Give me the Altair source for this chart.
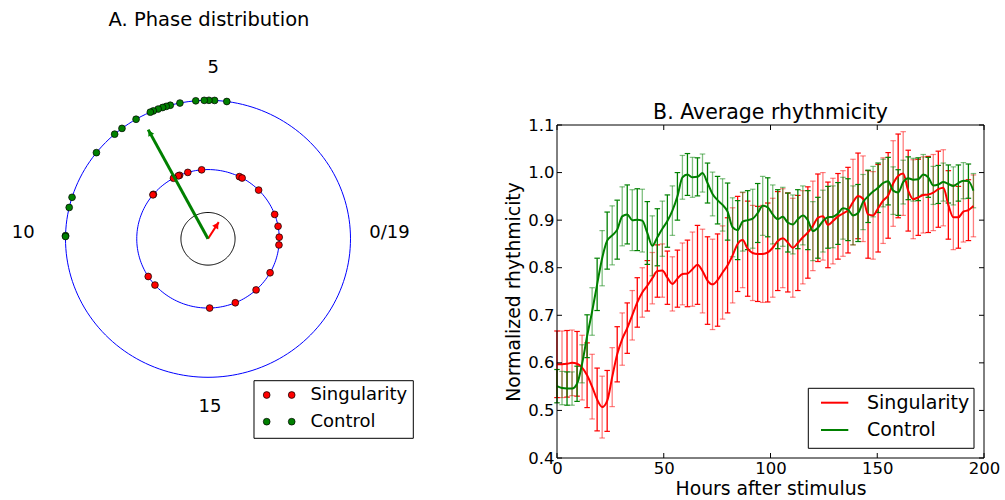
import math
import altair as alt
import pandas as pd

# ---------------- data: A. phase distribution ----------------
PERIOD = 19.0
SING_PHASES = [5.02, 5.62, 5.99, 6.05, 6.28, 7.39, 7.42, 3.37, 3.24, 2.36,
               1.09, 0.55, 0.07, 18.73, 17.45, 16.49, 15.44, 14.32, 11.71, 11.24]
CTRL_PHASES = [4.35, 4.61, 4.73, 4.83, 5.01, 5.35, 5.56, 5.65, 5.73, 5.83,
               5.94, 6.01, 6.35, 6.71, 6.91, 7.47, 8.58, 8.81, 9.43, 9.45]
SING_R = 0.5
CTRL_R = 1.0
RING_RADII = [1.0, 0.5, 0.19]
RING_COLORS = ["#0000ff", "#0000ff", "#000000"]
VEC_PHASE = [3.06, 6.23]      # Singularity, Control mean phase
VEC_LEN = [0.142, 0.893]      # mean resultant length
CLOCK_LABELS = ["5", "10", "0/19", "15"]
CLOCK_X = [0.037, -1.296, 1.274, 0.014]
CLOCK_Y = [1.231, 0.044, 0.044, -1.218]

# ---------------- data: B. average rhythmicity ----------------
HOURS = [0, 2.35, 4.7, 7.05, 9.4, 11.75, 14.1, 16.45, 18.8, 21.15,
         23.5, 25.85, 28.2, 30.55, 32.9, 35.25, 37.6, 39.95, 42.3, 44.65,
         47.0, 49.35, 51.7, 54.05, 56.4, 58.75, 61.1, 63.45, 65.8, 68.15,
         70.5, 72.85, 75.2, 77.55, 79.9, 82.25, 84.6, 86.95, 89.3, 91.65,
         94.0, 96.35, 98.7, 101.05, 103.4, 105.75, 108.1, 110.45, 112.8, 115.15,
         117.5, 119.85, 122.2, 124.55, 126.9, 129.25, 131.6, 133.95, 136.3, 138.65,
         141.0, 143.35, 145.7, 148.05, 150.4, 152.75, 155.1, 157.45, 159.8, 162.15,
         164.5, 166.85, 169.2, 171.55, 173.9, 176.25, 178.6, 180.95, 183.3, 185.65,
         188.0, 190.35, 192.7, 195.05]
RED_MEAN = [0.597, 0.597, 0.598, 0.600, 0.598, 0.590, 0.574, 0.550, 0.523, 0.507,
            0.520, 0.570, 0.618, 0.650, 0.673, 0.700, 0.727, 0.748, 0.762, 0.778,
            0.793, 0.794, 0.779, 0.766, 0.777, 0.787, 0.788, 0.797, 0.806, 0.793,
            0.773, 0.765, 0.774, 0.790, 0.805, 0.826, 0.850, 0.858, 0.840, 0.831,
            0.829, 0.829, 0.832, 0.842, 0.856, 0.862, 0.853, 0.842, 0.852, 0.864,
            0.874, 0.888, 0.905, 0.908, 0.890, 0.898, 0.908, 0.914, 0.921, 0.938,
            0.951, 0.945, 0.912, 0.910, 0.925, 0.941, 0.952, 0.977, 0.993, 0.998,
            0.962, 0.944, 0.948, 0.953, 0.954, 0.958, 0.965, 0.968, 0.932, 0.906,
            0.906, 0.918, 0.921, 0.930]
RED_ERR = [0.070, 0.070, 0.070, 0.069, 0.068, 0.068, 0.068, 0.068, 0.066, 0.065,
           0.064, 0.062, 0.058, 0.055, 0.053, 0.052, 0.052, 0.052, 0.053, 0.054,
           0.055, 0.056, 0.056, 0.057, 0.060, 0.065, 0.070, 0.078, 0.083, 0.088,
           0.092, 0.095, 0.097, 0.098, 0.100, 0.100, 0.100, 0.100, 0.100, 0.100,
           0.100, 0.102, 0.104, 0.104, 0.104, 0.104, 0.104, 0.104, 0.100, 0.098,
           0.096, 0.094, 0.092, 0.092, 0.090, 0.090, 0.090, 0.090, 0.090, 0.090,
           0.090, 0.090, 0.092, 0.092, 0.092, 0.090, 0.090, 0.090, 0.088, 0.088,
           0.085, 0.083, 0.080, 0.080, 0.080, 0.080, 0.080, 0.080, 0.072, 0.068,
           0.065, 0.064, 0.064, 0.065]
GREEN_MEAN = [0.551, 0.547, 0.546, 0.546, 0.556, 0.598, 0.656, 0.708, 0.765, 0.820,
              0.857, 0.868, 0.880, 0.908, 0.912, 0.900, 0.901, 0.899, 0.873, 0.846,
              0.864, 0.882, 0.898, 0.920, 0.950, 0.990, 0.996, 0.990, 0.991, 0.999,
              0.978, 0.955, 0.942, 0.932, 0.918, 0.885, 0.879, 0.897, 0.900, 0.903,
              0.915, 0.930, 0.927, 0.912, 0.902, 0.907, 0.895, 0.891, 0.902, 0.910,
              0.900, 0.877, 0.884, 0.898, 0.906, 0.907, 0.914, 0.925, 0.922, 0.910,
              0.915, 0.938, 0.950, 0.960, 0.968, 0.978, 0.982, 0.962, 0.958, 0.980,
              0.988, 0.985, 0.986, 0.996, 0.990, 0.973, 0.975, 0.980, 0.976, 0.972,
              0.978, 0.983, 0.982, 0.962]
GREEN_ERR = [0.035, 0.035, 0.035, 0.035, 0.037, 0.040, 0.045, 0.050, 0.055, 0.058,
             0.060, 0.062, 0.062, 0.062, 0.062, 0.064, 0.065, 0.066, 0.066, 0.063,
             0.060, 0.058, 0.055, 0.052, 0.050, 0.046, 0.044, 0.042, 0.040, 0.040,
             0.042, 0.046, 0.050, 0.055, 0.060, 0.062, 0.062, 0.062, 0.062, 0.062,
             0.062, 0.062, 0.062, 0.062, 0.062, 0.062, 0.062, 0.062, 0.062, 0.062,
             0.062, 0.062, 0.064, 0.065, 0.065, 0.065, 0.065, 0.065, 0.065, 0.062,
             0.060, 0.058, 0.055, 0.053, 0.052, 0.050, 0.050, 0.050, 0.048, 0.046,
             0.045, 0.045, 0.045, 0.042, 0.042, 0.040, 0.040, 0.040, 0.040, 0.040,
             0.038, 0.038, 0.036, 0.036]
SERIES = ["Singularity", "Control"]
Y_TICKS = [0.4, 0.5, 0.6, 0.7, 0.8, 0.9, 1.0, 1.1]
X_TICKS = [0, 50, 100, 150, 200]

RED = "#ff0000"
GREEN = "#008000"
FONT = "DejaVu Sans"

# ================= left panel =================
W_L, H_L = 440, 583
CX, CY, SX, SY = 208.0, 238.8, 142.5, 138.5
xs = alt.Scale(domain=[-CX / SX, (W_L - CX) / SX], nice=False, zero=False)
ys = alt.Scale(domain=[(CY - H_L) / SY, CY / SY], nice=False, zero=False)


def lx(f):
    return alt.X(f, type="quantitative", scale=xs, axis=None)


def ly(f):
    return alt.Y(f, type="quantitative", scale=ys, axis=None)


ring_rows = []
for k, (r, c) in enumerate(zip(RING_RADII, RING_COLORS)):
    for d in range(0, 361, 2):
        t = math.radians(d)
        ring_rows.append({"ring": k, "ord": d, "x": r * math.cos(t),
                          "y": r * math.sin(t), "col": c})
rings = alt.Chart(pd.DataFrame(ring_rows)).mark_line(strokeWidth=1).encode(
    x=lx("x"), y=ly("y"), detail="ring:N", order="ord:Q",
    color=alt.Color("col:N", scale=None))

pt_rows = []
for phases, rad, col in [(SING_PHASES, SING_R, RED), (CTRL_PHASES, CTRL_R, GREEN)]:
    for p in phases:
        a = 2 * math.pi * p / PERIOD
        pt_rows.append({"x": rad * math.cos(a), "y": rad * math.sin(a), "col": col})
points = alt.Chart(pd.DataFrame(pt_rows)).mark_point(
    filled=True, shape="circle", size=46, stroke="black", strokeWidth=0.7,
    opacity=1, fillOpacity=1).encode(
    x=lx("x"), y=ly("y"), fill=alt.Fill("col:N", scale=None))

arr_rows = []
for p, L, col, sw, hs in zip(VEC_PHASE, VEC_LEN, [RED, GREEN], [2.0, 3.0], [50, 45]):
    a = 2 * math.pi * p / PERIOD
    tx, ty = L * math.cos(a), L * math.sin(a)
    plen = math.hypot(tx * SX, ty * SY)
    f = 1 - 3.5 / plen
    ang = math.degrees(math.atan2(tx * SX, ty * SY)) % 360
    arr_rows.append({"x0": 0.0, "y0": 0.0, "x": tx, "y": ty, "hx": tx * f,
                     "hy": ty * f, "ang": ang, "col": col, "sw": sw, "hs": hs})
arr_df = pd.DataFrame(arr_rows)
shafts = alt.Chart(arr_df).mark_rule().encode(
    x=lx("x0"), y=ly("y0"), x2="x:Q", y2="y:Q",
    color=alt.Color("col:N", scale=None),
    strokeWidth=alt.StrokeWidth("sw:Q", scale=None))
heads = alt.Chart(arr_df).mark_point(
    filled=True, shape="triangle-up", opacity=1, fillOpacity=1).encode(
    x=lx("hx"), y=ly("hy"), fill=alt.Fill("col:N", scale=None),
    size=alt.Size("hs:Q", scale=None),
    angle=alt.Angle("ang:Q", scale=None))

lab_df = pd.DataFrame({"x": CLOCK_X, "y": CLOCK_Y, "t": CLOCK_LABELS})
clock = alt.Chart(lab_df).mark_text(fontSize=18, font=FONT, baseline="middle",
                                    align="center", color="black").encode(
    x=lx("x"), y=ly("y"), text="t:N")

one = pd.DataFrame({"a": [0]})
title_a = alt.Chart(one).mark_text(text="A. Phase distribution", fontSize=19.5,
                                   font=FONT, baseline="middle", align="center",
                                   color="black").encode(
    x=alt.value(209), y=alt.value(20))

leg_a = [alt.Chart(one).mark_rect(fill="white", stroke="black", strokeWidth=1).encode(
    x=alt.value(254), x2=alt.value(413.3), y=alt.value(380.7), y2=alt.value(438.3))]
for name, col, yy in [(SERIES[0], RED, 395), (SERIES[1], GREEN, 421.7)]:
    for xx in [266.7, 291.7]:
        leg_a.append(alt.Chart(one).mark_point(
            filled=True, shape="circle", size=46, stroke="black", strokeWidth=0.7,
            fill=col, opacity=1).encode(x=alt.value(xx), y=alt.value(yy)))
    leg_a.append(alt.Chart(one).mark_text(
        text=name, fontSize=18, font=FONT, align="left", baseline="middle",
        color="black").encode(x=alt.value(310.4), y=alt.value(yy)))

left = alt.layer(rings, points, shafts, heads, clock, title_a, *leg_a).properties(
    width=W_L, height=H_L)

# ================= right panel =================
W_R, H_R = 427, 333
rows = []
for s, col, means, errs in [(SERIES[0], RED, RED_MEAN, RED_ERR),
                            (SERIES[1], GREEN, GREEN_MEAN, GREEN_ERR)]:
    for i, (h, m, e) in enumerate(zip(HOURS, means, errs)):
        rows.append({"h": h, "m": m, "lo": m - e, "hi": m + e, "s": s,
                     "col": col, "op": 1.0 if i % 2 == 0 else 0.5})
rdf = pd.DataFrame(rows)

XAX = alt.Axis(values=X_TICKS, format="d", labelFontSize=16.5, labelColor="black",
               labelFont=FONT, ticks=False, tickSize=0, domain=False, grid=False,
               labelPadding=2, labelFlush=False, labelOverlap=False,
               title="Hours after stimulus", titleFontSize=18.8,
               titleFontWeight="normal", titleColor="black", titleFont=FONT,
               titlePadding=3)
YAX = alt.Axis(values=Y_TICKS, format=".1f", labelFontSize=16.5, labelColor="black",
               labelFont=FONT, ticks=False, tickSize=0, domain=False, grid=False,
               labelPadding=3, labelFlush=False, labelOverlap=False,
               title="Normalized rhythmicity", titleFontSize=18.8,
               titleFontWeight="normal", titleColor="black", titleFont=FONT,
               titlePadding=4)
XS = alt.Scale(domain=[0, 200], nice=False, zero=False)
YS = alt.Scale(domain=[0.4, 1.1], nice=False, zero=False)


def rx(f):
    return alt.X(f, type="quantitative", scale=XS, axis=XAX)


def ry(f):
    return alt.Y(f, type="quantitative", scale=YS, axis=YAX)


layers = []
for s in SERIES:
    d = rdf[rdf["s"] == s]
    base = alt.Chart(d)
    layers.append(base.mark_rule(strokeWidth=1.3).encode(
        x=rx("h"), y=ry("lo"), y2="hi:Q", color=alt.Color("col:N", scale=None),
        opacity=alt.Opacity("op:Q", scale=None)))
    for f in ["lo", "hi"]:
        layers.append(base.mark_tick(orient="horizontal", size=5.5, thickness=1.2).encode(
            x=rx("h"), y=ry(f), color=alt.Color("col:N", scale=None),
            opacity=alt.Opacity("op:Q", scale=None)))
for s in SERIES:
    d = rdf[rdf["s"] == s]
    layers.append(alt.Chart(d).mark_line(strokeWidth=2, interpolate="monotone").encode(
        x=rx("h"), y=ry("m"), color=alt.Color("col:N", scale=None)))

frame = alt.Chart(one).mark_rect(fill="white", fillOpacity=0, stroke="black",
                                 strokeWidth=1).encode(
    x=alt.value(0), x2=alt.value(W_R), y=alt.value(0), y2=alt.value(H_R))
ytick_df = pd.DataFrame({"v": Y_TICKS})
xtick_df = pd.DataFrame({"h": X_TICKS})
tick_layers = [
    alt.Chart(ytick_df).mark_rule(color="black").encode(
        y=ry("v"), x=alt.value(0), x2=alt.value(5)),
    alt.Chart(ytick_df).mark_rule(color="black").encode(
        y=ry("v"), x=alt.value(W_R - 5), x2=alt.value(W_R)),
    alt.Chart(xtick_df).mark_rule(color="black").encode(
        x=rx("h"), y=alt.value(H_R - 5), y2=alt.value(H_R)),
    alt.Chart(xtick_df).mark_rule(color="black").encode(
        x=rx("h"), y=alt.value(0), y2=alt.value(5)),
]

title_b = alt.Chart(one).mark_text(text="B. Average rhythmicity", fontSize=20.5,
                                   font=FONT, baseline="middle", align="center",
                                   color="black").encode(
    x=alt.value(W_R / 2), y=alt.value(-12))

leg_b = [alt.Chart(one).mark_rect(fill="white", stroke="black", strokeWidth=1).encode(
    x=alt.value(251.3), x2=alt.value(417), y=alt.value(263.3), y2=alt.value(323.3))]
for name, col, yy in [(SERIES[0], RED, 277.7), (SERIES[1], GREEN, 305)]:
    leg_b.append(alt.Chart(one).mark_rule(color=col, strokeWidth=2).encode(
        x=alt.value(264), x2=alt.value(291.3), y=alt.value(yy)))
    leg_b.append(alt.Chart(one).mark_text(
        text=name, fontSize=19, font=FONT, align="left", baseline="middle",
        color="black").encode(x=alt.value(310), y=alt.value(yy)))

right = alt.layer(*layers, frame, *tick_layers, title_b, *leg_b).properties(
    width=W_R, height=H_R)

chart = alt.hconcat(left, right, spacing=117, bounds="flush", center=True).properties(
    padding=0).configure(font=FONT).configure_view(strokeWidth=0)

chart.save("out.html", embed_options={"renderer": "svg", "actions": False})
